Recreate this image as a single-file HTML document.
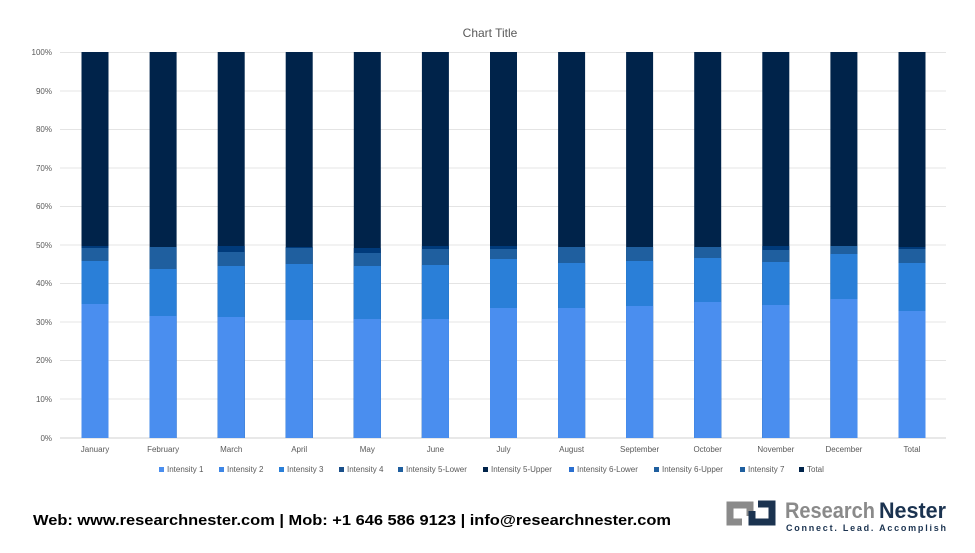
<!DOCTYPE html><html><head><style>body{margin:0;background:#fff;font-family:"Liberation Sans",sans-serif}</style></head><body>
<svg width="975" height="548" xmlns="http://www.w3.org/2000/svg" font-family="Liberation Sans, sans-serif">
<rect width="975" height="548" fill="#fff"/>
<text x="490" y="37" font-size="12" fill="#595959" text-anchor="middle">Chart Title</text>
<g stroke="#e4e4e4" stroke-width="1">
<line x1="60" x2="946" y1="52.5" y2="52.5"/><line x1="60" x2="946" y1="91" y2="91"/><line x1="60" x2="946" y1="129.5" y2="129.5"/><line x1="60" x2="946" y1="168" y2="168"/><line x1="60" x2="946" y1="206.5" y2="206.5"/><line x1="60" x2="946" y1="245" y2="245"/><line x1="60" x2="946" y1="283.5" y2="283.5"/><line x1="60" x2="946" y1="322" y2="322"/><line x1="60" x2="946" y1="360.5" y2="360.5"/><line x1="60" x2="946" y1="399" y2="399"/></g>
<line x1="60" x2="946" y1="438" y2="438" stroke="#d0d0d0"/>
<g font-size="8" fill="#595959" text-anchor="end">
<text x="52" y="55">100%</text><text x="52" y="94">90%</text><text x="52" y="132">80%</text><text x="52" y="171">70%</text><text x="52" y="209">60%</text><text x="52" y="248">50%</text><text x="52" y="286">40%</text><text x="52" y="325">30%</text><text x="52" y="363">20%</text><text x="52" y="402">10%</text><text x="52" y="441">0%</text></g>
<defs>
<style>.t{fill:#00234a}.n{fill:#003a7a}.a{fill:#1f5f9f}.b{fill:#2a7fd8}.c{fill:#4a8eef}</style>
</defs>
<g>
<!-- Jan -->
<rect class="t" x="81.5" y="52" width="27" height="386"/><rect class="n" x="81.5" y="246" width="27" height="192"/><rect class="a" x="81.5" y="248" width="27" height="190"/><rect class="b" x="81.5" y="261" width="27" height="177"/><rect class="c" x="81.5" y="304" width="27" height="134"/>
<!-- Feb -->
<rect class="t" x="149.6" y="52" width="27" height="386"/><rect class="a" x="149.6" y="247" width="27" height="191"/><rect class="b" x="149.6" y="269" width="27" height="169"/><rect class="c" x="149.6" y="316" width="27" height="122"/>
<!-- Mar -->
<rect class="t" x="217.7" y="52" width="27" height="386"/><rect class="n" x="217.7" y="246" width="27" height="192"/><rect class="a" x="217.7" y="252" width="27" height="186"/><rect class="b" x="217.7" y="266" width="27" height="172"/><rect class="c" x="217.7" y="317" width="27" height="121"/>
<!-- Apr -->
<rect class="t" x="285.7" y="52" width="27" height="386"/><rect class="n" x="285.7" y="247" width="27" height="191"/><rect class="a" x="285.7" y="248" width="27" height="190"/><rect class="b" x="285.7" y="264" width="27" height="174"/><rect class="c" x="285.7" y="320" width="27" height="118"/>
<!-- May -->
<rect class="t" x="353.8" y="52" width="27" height="386"/><rect class="n" x="353.8" y="248" width="27" height="190"/><rect class="a" x="353.8" y="253" width="27" height="185"/><rect class="b" x="353.8" y="266" width="27" height="172"/><rect class="c" x="353.8" y="319" width="27" height="119"/>
<!-- Jun -->
<rect class="t" x="421.9" y="52" width="27" height="386"/><rect class="n" x="421.9" y="246" width="27" height="192"/><rect class="a" x="421.9" y="249" width="27" height="189"/><rect class="b" x="421.9" y="265" width="27" height="173"/><rect class="c" x="421.9" y="319" width="27" height="119"/>
<!-- Jul -->
<rect class="t" x="490" y="52" width="27" height="386"/><rect class="n" x="490" y="246" width="27" height="192"/><rect class="a" x="490" y="249" width="27" height="189"/><rect class="b" x="490" y="259" width="27" height="179"/><rect class="c" x="490" y="308" width="27" height="130"/>
<!-- Aug -->
<rect class="t" x="558.1" y="52" width="27" height="386"/><rect class="a" x="558.1" y="247" width="27" height="191"/><rect class="b" x="558.1" y="263" width="27" height="175"/><rect class="c" x="558.1" y="308" width="27" height="130"/>
<!-- Sep -->
<rect class="t" x="626.1" y="52" width="27" height="386"/><rect class="a" x="626.1" y="247" width="27" height="191"/><rect class="b" x="626.1" y="261" width="27" height="177"/><rect class="c" x="626.1" y="306" width="27" height="132"/>
<!-- Oct -->
<rect class="t" x="694.2" y="52" width="27" height="386"/><rect class="a" x="694.2" y="247" width="27" height="191"/><rect class="b" x="694.2" y="258" width="27" height="180"/><rect class="c" x="694.2" y="302" width="27" height="136"/>
<!-- Nov -->
<rect class="t" x="762.3" y="52" width="27" height="386"/><rect class="n" x="762.3" y="246" width="27" height="192"/><rect class="a" x="762.3" y="250" width="27" height="188"/><rect class="b" x="762.3" y="262" width="27" height="176"/><rect class="c" x="762.3" y="305" width="27" height="133"/>
<!-- Dec -->
<rect class="t" x="830.4" y="52" width="27" height="386"/><rect class="a" x="830.4" y="246" width="27" height="192"/><rect class="b" x="830.4" y="254" width="27" height="184"/><rect class="c" x="830.4" y="299" width="27" height="139"/>
<!-- Total -->
<rect class="t" x="898.5" y="52" width="27" height="386"/><rect class="n" x="898.5" y="247" width="27" height="191"/><rect class="a" x="898.5" y="249" width="27" height="189"/><rect class="b" x="898.5" y="263" width="27" height="175"/><rect class="c" x="898.5" y="311" width="27" height="127"/>
</g>
<g font-size="8" fill="#595959" text-anchor="middle">
<text x="95" y="452">January</text><text x="163.1" y="452">February</text><text x="231.2" y="452">March</text><text x="299.2" y="452">April</text><text x="367.3" y="452">May</text><text x="435.4" y="452">June</text><text x="503.5" y="452">July</text><text x="571.6" y="452">August</text><text x="639.6" y="452">September</text><text x="707.7" y="452">October</text><text x="775.8" y="452">November</text><text x="843.9" y="452">December</text><text x="912" y="452">Total</text></g>
<g font-size="8" fill="#595959">
<rect x="159" y="467" width="5" height="5" fill="#4a8eef"/><text x="167" y="472">Intensity 1</text>
<rect x="219" y="467" width="5" height="5" fill="#3d86e6"/><text x="227" y="472">Intensity 2</text>
<rect x="279" y="467" width="5" height="5" fill="#2a7fd8"/><text x="287" y="472">Intensity 3</text>
<rect x="339" y="467" width="5" height="5" fill="#1a4f8a"/><text x="347" y="472">Intensity 4</text>
<rect x="398" y="467" width="5" height="5" fill="#1f5f9f"/><text x="406" y="472">Intensity 5-Lower</text>
<rect x="483" y="467" width="5" height="5" fill="#00234a"/><text x="491" y="472">Intensity 5-Upper</text>
<rect x="569" y="467" width="5" height="5" fill="#2a6fd0"/><text x="577" y="472">Intensity 6-Lower</text>
<rect x="654" y="467" width="5" height="5" fill="#1f5f9f"/><text x="662" y="472">Intensity 6-Upper</text>
<rect x="740" y="467" width="5" height="5" fill="#1f5f9f"/><text x="748" y="472">Intensity 7</text>
<rect x="799" y="467" width="5" height="5" fill="#00234a"/><text x="807" y="472">Total</text></g>
<text x="33" y="525" font-size="15" font-weight="bold" fill="#000" textLength="638" lengthAdjust="spacingAndGlyphs">Web: www.researchnester.com | Mob: +1 646 586 9123 | info@researchnester.com</text>
<g fill="none" stroke-width="7">
<path d="M742 522 H730 V505 H750 V516" stroke="#8a8a8a"/>
<path d="M758 504 H772 V522 H752 V511" stroke="#1b3350"/></g>
<text x="785" y="518" font-size="22" font-weight="bold" fill="#8a8a8a" textLength="90" lengthAdjust="spacingAndGlyphs">Research</text>
<text x="879" y="518" font-size="22" font-weight="bold" fill="#1b3350" textLength="67" lengthAdjust="spacingAndGlyphs">Nester</text>
<text x="786" y="531" font-size="9" font-weight="bold" fill="#1b3350" textLength="160" lengthAdjust="spacing">Connect. Lead. Accomplish</text>
</svg></body></html>
